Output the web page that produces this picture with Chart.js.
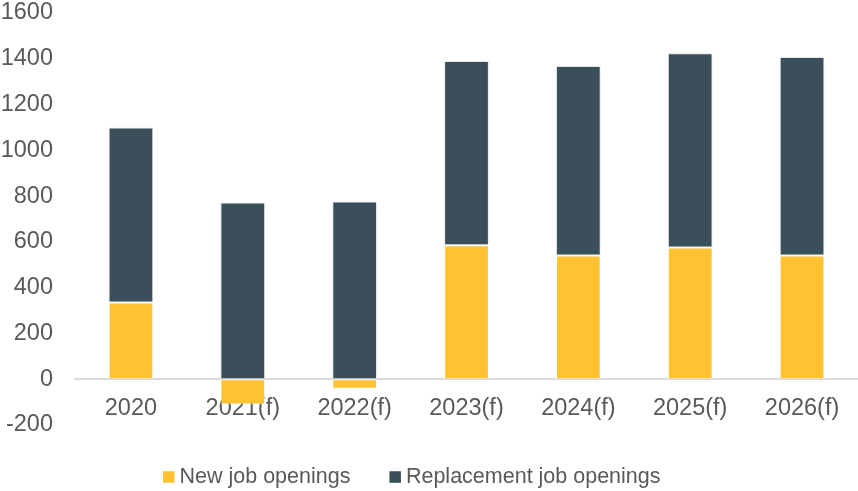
<!DOCTYPE html>
<html>
<head>
<meta charset="utf-8">
<script src="https://cdn.jsdelivr.net/npm/chart.js@4/dist/chart.umd.min.js"></script>
<style>
  html, body { margin: 0; padding: 0; background: #ffffff; }
  #wrap { width: 858px; height: 491px; position: relative; }
</style>
</head>
<body>
<div id="wrap"><canvas id="c"></canvas></div>
<script>
// Job openings by year (thousands)
const years = ['2020', '2021(f)', '2022(f)', '2023(f)', '2024(f)', '2025(f)', '2026(f)'];
const newOpenings = [335, -110, -42, 585, 540, 575, 540];
const replacementOpenings = [765, 772, 776, 805, 828, 849, 868];
const yTicks = [-200, 0, 200, 400, 600, 800, 1000, 1200, 1400, 1600];

const seriesNames = ['New job openings', 'Replacement job openings'];
const seriesColors = ['#FEC232', '#3A4F5A'];

const textColor = '#595959';
const fontFamily = '"Liberation Sans", Arial, sans-serif';

// Legend drawn under the plot: small square swatch followed by series name
const bottomLegend = {
  id: 'bottomLegend',
  afterDraw(chart) {
    const ctx = chart.ctx;
    const size = 21.5;
    const box = 11.5;
    const textGap = 5;
    const itemGap = 39;
    const cy = 477;
    ctx.save();
    ctx.font = size + 'px ' + fontFamily;
    ctx.textBaseline = 'middle';
    ctx.textAlign = 'left';
    let x = 163;
    chart.data.datasets.forEach((ds) => {
      ctx.fillStyle = ds.backgroundColor;
      ctx.fillRect(x, cy - box / 2, box, box);
      x += box + textGap;
      ctx.fillStyle = textColor;
      ctx.fillText(ds.label, x, cy);
      x += ctx.measureText(ds.label).width + itemGap;
    });
    ctx.restore();
  }
};

const noEdgePadding = (scale) => {
  scale.paddingTop = 0;
  scale.paddingBottom = 0;
  scale.paddingLeft = 0;
  scale.paddingRight = 0;
};

new Chart(document.getElementById('c'), {
  type: 'bar',
  data: {
    labels: years,
    datasets: [
      {
        label: seriesNames[0],
        data: newOpenings,
        backgroundColor: seriesColors[0],
        borderColor: 'rgba(255,255,255,0.55)',
        borderWidth: 1,
        borderSkipped: false
      },
      {
        label: seriesNames[1],
        data: replacementOpenings,
        backgroundColor: seriesColors[1],
        borderColor: 'rgba(220,228,232,0.9)',
        borderWidth: 1,
        borderSkipped: false
      }
    ]
  },
  options: {
    responsive: true,
    maintainAspectRatio: false,
    animation: false,
    layout: { padding: { top: 13, bottom: 66, left: 0, right: 0 } },
    datasets: {
      bar: { barPercentage: 0.4, categoryPercentage: 1.0 }
    },
    plugins: {
      legend: { display: false },
      tooltip: { enabled: false }
    },
    scales: {
      x: {
        stacked: true,
        position: { y: 0 },
        afterFit: noEdgePadding,
        grid: { display: false, drawTicks: false },
        border: { display: true, color: '#D9D9D9', width: 2 },
        ticks: {
          color: textColor,
          font: { family: fontFamily, size: 23.5 },
          padding: 15,
          maxRotation: 0
        }
      },
      y: {
        stacked: true,
        min: yTicks[0],
        max: yTicks[yTicks.length - 1],
        afterBuildTicks(scale) {
          scale.ticks = yTicks.map(v => ({ value: v }));
        },
        afterFit(scale) {
          scale.width = 75;
          noEdgePadding(scale);
        },
        grid: { display: false, drawTicks: false },
        border: { display: false },
        ticks: {
          color: textColor,
          font: { family: fontFamily, size: 23.5 },
          padding: 22,
          callback: (v) => String(v)
        }
      }
    }
  },
  plugins: [bottomLegend]
});
</script>
</body>
</html>
